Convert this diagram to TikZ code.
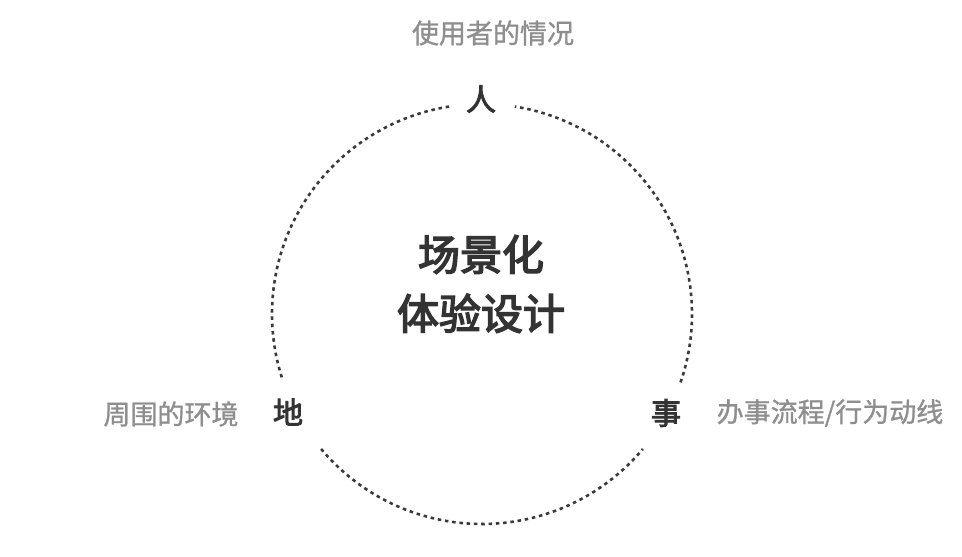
\documentclass[tikz,border=0pt]{standalone}
\usepackage{fontspec}
\usetikzlibrary{calc}
\newfontfamily\cjkmid[FakeBold=3]{Noto Sans CJK SC}
\newfontfamily\cjktitle[FakeBold=3.5]{Noto Sans CJK SC}
\newfontfamily\cjkgrey[FakeBold=1]{Noto Sans CJK SC}
\definecolor{darktxt}{HTML}{333333}
\definecolor{greytxt}{HTML}{8E8E8E}
\definecolor{ringcol}{HTML}{3A3A3A}
\tikzset{
  ring/.style={draw=ringcol, line width=2.6pt, dash pattern=on 3.5pt off 3.8pt},
  keylabel/.style={inner sep=0pt, text=darktxt, font=\cjkmid\fontsize{30}{30}\selectfont},
  desclabel/.style={inner sep=0pt, text=greytxt, font=\cjkgrey\fontsize{27}{27}\selectfont},
  titlelabel/.style={inner sep=0pt, align=center, text=darktxt, font=\cjktitle\fontsize{42}{59}\selectfont}
}
\begin{document}
\begin{tikzpicture}[x=1pt,y=1pt]
\useasboundingbox[fill=white] (0,0) rectangle (962,557);
\coordinate (c) at (482,243);
% ring segments
\draw[ring] ($(c)+(99:210)$) arc[start angle=99, end angle=198, radius=210];
\draw[ring] ($(c)+(220:210)$) arc[start angle=220, end angle=320, radius=210];
\draw[ring] ($(c)+(-19:210)$) arc[start angle=-19, end angle=81, radius=210];
% labels
\node[keylabel] (ren) at (481,458) {人};
\node[keylabel] (di) at (288,145) {地};
\node[keylabel] (shi) at (666,144) {事};
\node[desclabel] (renD) at (493,524) {使用者的情况};
\node[desclabel] (diD) at (171,143) {周围的环境};
\node[desclabel] (shiD) at (830,144) {办事流程/行为动线};
\node[titlelabel] (title) at (481,273) {场景化\\体验设计};
\end{tikzpicture}
\end{document}
